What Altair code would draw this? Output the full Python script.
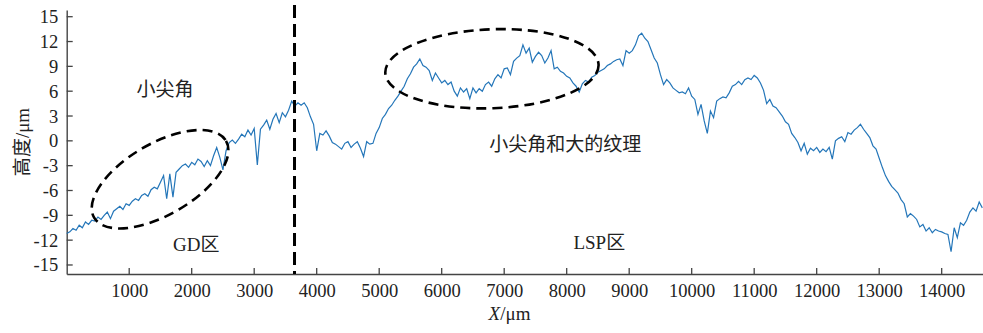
import altair as alt
import pandas as pd

# ---------------- data ----------------
x_um = list(range(0, 14651, 50))

h_0_1000 = [-11.2, -11.0, -10.6, -10.8, -10.2, -10.5, -9.8, -10.1, -9.6, -9.7, -9.2,
            -9.5, -9.0, -8.6, -9.4, -8.5, -8.2, -7.9, -8.3, -7.6, -7.8]
h_1000_2000 = [-7.3, -7.0, -7.2, -6.6, -6.4, -6.7, -5.9, -5.6, -5.8, -5.0,
               -4.2, -7.0, -4.0, -6.8, -3.8, -3.4, -3.0, -2.8, -3.2, -2.6]
h_2000_3000 = [-2.9, -2.2, -2.5, -3.1, -2.4, -3.0, -1.8, -0.8, -2.0, -3.5,
               -1.2, -0.2, 0.1, -0.3, 0.2, 0.8, 0.5, 1.3, 0.7, 1.5]
h_3000_4000 = [-2.9, 1.4, 1.9, 2.5, 1.4, 2.6, 3.3, 2.2, 3.4, 2.9,
               3.7, 4.8, 4.2, 4.6, 4.3, 4.6, 4.0, 2.9, 2.0, -1.2]
h_4000_5000 = [0.9, 0.7, 1.2, 0.6, -0.2, -0.4, -0.7, -1.0, -0.3, -0.1,
               -0.8, -0.4, -0.1, -0.9, -1.9, -0.1, -0.4, -0.3, 0.9, 1.6]
h_5000_6000 = [2.7, 3.2, 3.9, 4.3, 4.9, 5.4, 6.0, 6.6, 7.5, 8.1,
               8.9, 9.3, 9.9, 9.1, 8.9, 8.5, 7.3, 8.2, 7.6, 7.0]
h_6000_7000 = [7.3, 6.8, 7.1, 6.0, 5.4, 6.4, 5.9, 6.3, 5.1, 6.4,
               5.8, 6.3, 6.0, 6.8, 7.1, 6.6, 7.5, 8.0, 7.6, 8.7]
h_7000_8000 = [8.8, 8.0, 9.6, 10.0, 10.3, 11.6, 10.6, 11.2, 9.5, 10.2,
               10.7, 10.3, 9.4, 10.0, 10.9, 8.7, 8.9, 8.4, 8.2, 7.8]
h_8000_9000 = [7.6, 7.0, 6.6, 5.9, 6.9, 7.3, 7.1, 7.7, 7.9, 8.3,
               8.5, 8.7, 9.1, 9.3, 9.6, 9.8, 9.9, 9.1, 10.9, 10.6]
h_9000_10000 = [10.9, 11.6, 12.7, 13.0, 12.4, 12.0, 11.0, 10.0, 9.4, 8.0,
                6.8, 7.4, 7.0, 6.4, 6.1, 5.8, 5.9, 5.7, 6.4, 5.4]
h_10000_11000 = [5.0, 3.2, 4.4, 2.4, 0.9, 3.6, 2.8, 4.8, 5.1, 5.3,
                 5.2, 5.8, 6.6, 6.8, 7.2, 6.8, 7.4, 7.6, 7.4, 7.9]
h_11000_12000 = [7.6, 7.0, 6.1, 4.5, 5.0, 4.2, 4.0, 3.5, 3.0, 2.3,
                 2.0, 0.9, 0.4, -0.2, -1.2, -0.3, -1.6, -0.9, -1.2, -0.8]
h_12000_13000 = [-1.4, -1.0, -1.3, -0.8, -2.2, 0.0, 0.3, 0.5, -0.1, 1.0,
                 0.8, 1.3, 1.6, 2.0, 1.4, 0.9, 0.4, -0.6, -1.0, -2.1]
h_13000_14000 = [-3.2, -4.2, -4.9, -5.5, -5.9, -6.3, -7.1, -7.6, -9.2, -8.8,
                 -9.1, -9.5, -10.4, -10.1, -10.9, -10.5, -11.1, -10.7, -10.9, -11.0]
h_14000_end = [-11.2, -11.3, -13.4, -10.5, -11.7, -9.9, -10.2, -9.6, -8.6, -8.1,
               -8.5, -7.4, -8.1]

height_um = (h_0_1000 + h_1000_2000 + h_2000_3000 + h_3000_4000 + h_4000_5000
             + h_5000_6000 + h_6000_7000 + h_7000_8000 + h_8000_9000
             + h_9000_10000 + h_10000_11000 + h_11000_12000 + h_12000_13000
             + h_13000_14000 + h_14000_end)

x_ticks = [1000, 2000, 3000, 4000, 5000, 6000, 7000, 8000, 9000, 10000,
           11000, 12000, 13000, 14000]
y_ticks = [-15, -12, -9, -6, -3, 0, 3, 6, 9, 12, 15]

boundary_x = [3645]

label_text = ["小尖角", "GD区", "小尖角和大的纹理", "LSP区"]
label_x = [1574, 2073, 7978, 8522]
label_y = [6.15, -12.6, -0.56, -12.35]

# ---------------- layout ----------------
W, H = 916.3, 264
X_DOM = [0, 14661]
Y_DOM = [-16.09, 15.81]
xs = alt.Scale(domain=X_DOM, nice=False, zero=False)
ys = alt.Scale(domain=Y_DOM, nice=False, zero=False)
SERIF = "Liberation Serif"
MIXED = "Liberation Serif, Noto Sans CJK SC"
AX = "#444444"

x_axis = alt.Axis(
    values=x_ticks, ticks=False, grid=False, domainColor=AX, domainWidth=1.4,
    labelFont=SERIF, labelFontSize=18.5, labelColor="#222222", labelPadding=7,
    labelExpr="'' + datum.value", labelOverlap=False, labelFlush=False, title=None)
y_axis = alt.Axis(
    values=y_ticks, ticks=False, grid=False, domainColor=AX, domainWidth=1.4,
    labelFont=SERIF, labelFontSize=18.5, labelColor="#222222", labelPadding=9,
    labelExpr="'' + datum.value", labelOverlap=False, labelFlush=False, title=None)

df = pd.DataFrame({"x": x_um, "h": height_um})

line = alt.Chart(df).mark_line(color="#2476b9", strokeWidth=1.2).encode(
    x=alt.X("x:Q", scale=xs, axis=x_axis),
    y=alt.Y("h:Q", scale=ys, axis=y_axis),
)

ytick = alt.Chart(pd.DataFrame({"v": y_ticks})).mark_rule(color=AX, strokeWidth=1.3).encode(
    y=alt.Y("v:Q", scale=ys, axis=y_axis), x=alt.value(0), x2=alt.value(6))
xtick = alt.Chart(pd.DataFrame({"v": x_ticks})).mark_rule(color=AX, strokeWidth=1.3).encode(
    x=alt.X("v:Q", scale=xs, axis=x_axis), y=alt.value(H), y2=alt.value(H - 6))

vline = alt.Chart(pd.DataFrame({"x": boundary_x})).mark_rule(
    color="black", strokeWidth=3, strokeDash=[13, 6]).encode(
    x=alt.X("x:Q", scale=xs, axis=x_axis), y=alt.value(-5), y2=alt.value(H))


def ellipse_path(r):
    k = 0.5523
    return (f"M 1 0 C 1 {k*r:.4f} {k:.4f} {r:.4f} 0 {r:.4f} "
            f"C {-k:.4f} {r:.4f} -1 {k*r:.4f} -1 0 "
            f"C -1 {-k*r:.4f} {-k:.4f} {-r:.4f} 0 {-r:.4f} "
            f"C {k:.4f} {-r:.4f} 1 {-k*r:.4f} 1 0 Z")


ell_gd = alt.Chart(pd.DataFrame({"x": [1494], "y": [-4.64]})).mark_point(
    shape=ellipse_path(0.467), size=23287, angle=329.8, filled=False,
    color="black", opacity=1, strokeWidth=2.6, strokeDash=[10, 6]).encode(
    x=alt.X("x:Q", scale=xs, axis=x_axis), y=alt.Y("y:Q", scale=ys, axis=y_axis))

ell_lsp = alt.Chart(pd.DataFrame({"x": [6804], "y": [8.71]})).mark_point(
    shape=ellipse_path(0.37), size=45540, angle=357.8, filled=False,
    color="black", opacity=1, strokeWidth=2.6, strokeDash=[10, 6]).encode(
    x=alt.X("x:Q", scale=xs, axis=x_axis), y=alt.Y("y:Q", scale=ys, axis=y_axis))

labels = alt.Chart(pd.DataFrame({"t": label_text, "x": label_x, "y": label_y})).mark_text(
    font=MIXED, fontSize=19, color="#222222", align="center", baseline="middle").encode(
    x=alt.X("x:Q", scale=xs, axis=x_axis), y=alt.Y("y:Q", scale=ys, axis=y_axis), text="t:N")

ytitle = alt.Chart(pd.DataFrame({"t": ["高度/μm"]})).mark_text(
    font=MIXED, fontSize=19, color="#222222", angle=270, align="center",
    baseline="middle").encode(x=alt.value(-44), y=alt.value(132), text="t:N")

xtitle_x = alt.Chart(pd.DataFrame({"t": ["X"]})).mark_text(
    font=SERIF, fontSize=19, fontStyle="italic", color="#222222", align="right",
    baseline="middle").encode(x=alt.value(433.5), y=alt.value(304), text="t:N")
xtitle_u = alt.Chart(pd.DataFrame({"t": ["/μm"]})).mark_text(
    font=SERIF, fontSize=19, color="#222222", align="left",
    baseline="middle").encode(x=alt.value(433.5), y=alt.value(304), text="t:N")

chart = alt.layer(line, ytick, xtick, vline, ell_gd, ell_lsp, labels,
                  ytitle, xtitle_x, xtitle_u).properties(
    width=W, height=H,
    autosize=alt.AutoSizeParams(type="none"),
    padding={"left": 66.7, "top": 10, "right": 0, "bottom": 59},
    background="white",
).configure_view(stroke=None)

chart.save("out.html", embed_options={"renderer": "svg", "actions": False})
